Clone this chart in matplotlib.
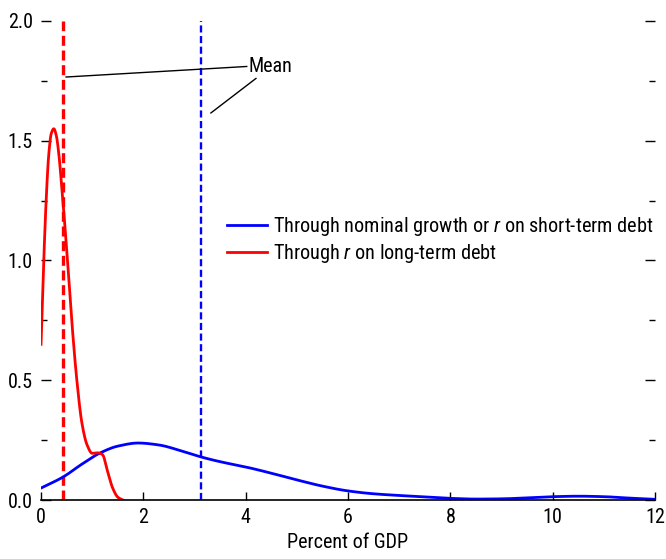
import matplotlib
matplotlib.use("Agg")
import matplotlib.pyplot as plt
import numpy as np
from matplotlib.ticker import MultipleLocator

plt.rcParams['font.family'] = ['Arial Narrow', 'Liberation Sans Narrow', 'Roboto Condensed',
                               'Archivo Narrow', 'PT Sans Narrow', 'DejaVu Sans']
plt.rcParams['mathtext.fontset'] = 'custom'
plt.rcParams['mathtext.it'] = 'Roboto Condensed:italic'

# Density through nominal growth or r on short-term debt
blue_x = [0.0, 0.43, 0.8, 1.15, 1.5, 1.9, 2.3, 2.7, 3.125, 3.5, 4.0, 4.5, 5.0, 5.5, 6.0, 6.5, 7.0, 7.5, 8.0, 8.5, 9.0, 9.5, 10.0, 10.5, 11.0, 11.5, 12.0]
blue_y = [0.05, 0.096, 0.15, 0.196, 0.225, 0.238, 0.23, 0.208, 0.18, 0.16, 0.138, 0.112, 0.084, 0.058, 0.038, 0.026, 0.019, 0.013, 0.007, 0.004, 0.005, 0.009, 0.014, 0.016, 0.014, 0.008, 0.003]

# Density through r on long-term debt
red_x = [0.0, 0.05, 0.1, 0.15, 0.2, 0.25, 0.3, 0.35, 0.4, 0.5, 0.6, 0.7, 0.8, 0.9, 1.0, 1.1, 1.2, 1.3, 1.4, 1.5, 1.6]
red_y = [0.65, 0.98, 1.25, 1.44, 1.53, 1.55, 1.52, 1.44, 1.32, 1.05, 0.75, 0.5, 0.32, 0.23, 0.195, 0.197, 0.19, 0.12, 0.05, 0.012, 0.0]

mean_blue = 3.125
mean_red = 0.43

xticks = [0, 2, 4, 6, 8, 10, 12]
yticks = [0.0, 0.5, 1.0, 1.5, 2.0]

def smooth(x, y, n=400):
    xs = np.linspace(min(x), max(x), n)
    x = np.asarray(x, float)
    y = np.asarray(y, float)
    # monotone cubic (PCHIP-style) interpolation through the points
    h = np.diff(x)
    d = np.diff(y) / h
    m = np.zeros_like(y)
    for k in range(1, len(x) - 1):
        if d[k - 1] * d[k] > 0:
            w1 = 2 * h[k] + h[k - 1]
            w2 = h[k] + 2 * h[k - 1]
            m[k] = (w1 + w2) / (w1 / d[k - 1] + w2 / d[k])
    m[0] = d[0]
    m[-1] = d[-1]
    ys = np.empty_like(xs)
    idx = np.clip(np.searchsorted(x, xs) - 1, 0, len(x) - 2)
    for j, (xv, i) in enumerate(zip(xs, idx)):
        t = (xv - x[i]) / h[i]
        h00 = 2 * t**3 - 3 * t**2 + 1
        h10 = t**3 - 2 * t**2 + t
        h01 = -2 * t**3 + 3 * t**2
        h11 = t**3 - t**2
        ys[j] = h00 * y[i] + h10 * h[i] * m[i] + h01 * y[i + 1] + h11 * h[i] * m[i + 1]
    return xs, ys

fig = plt.figure(figsize=(6.66, 5.59), dpi=100)
ax = fig.add_axes([0.0616, 0.1055, 0.922, 0.857])

bx, by = smooth(blue_x, blue_y)
rx, ry = smooth(red_x, red_y)

ax.plot([mean_red, mean_red], [0, 2.0], color='#ff0000', lw=2.4, ls=(0, (3, 1.4)))
ax.plot([mean_blue, mean_blue], [0, 2.0], color='#0000ff', lw=1.7, ls=(0, (3, 1.5)))
ax.plot(bx, by, color='#0000ff', lw=2.0, label='Through nominal growth or $\\it{r}$ on short-term debt')
ax.plot(rx, ry, color='#ff0000', lw=2.0, label='Through $\\it{r}$ on long-term debt')

# "Mean" callout
ax.plot([0.49, 4.02], [1.766, 1.81], color='black', lw=1.0)
ax.plot([4.2, 3.32], [1.76, 1.616], color='black', lw=1.0)
ax.text(4.05, 1.81, 'Mean', fontsize=14.5, va='center', ha='left')

ax.set_xlim(0, 12)
ax.set_ylim(0, 2.0)
ax.set_xticks(xticks)
ax.set_xticklabels([str(v) for v in xticks])
ax.set_yticks(yticks)
ax.set_yticklabels([f'{v:.1f}' for v in yticks])
ax.yaxis.set_minor_locator(MultipleLocator(0.25))

for s in ['top', 'left', 'right']:
    ax.spines[s].set_visible(False)
ax.spines['bottom'].set_linewidth(1.2)

ax.tick_params(axis='x', direction='in', length=6, width=1.0, labelsize=14.5, pad=6)
ax.tick_params(axis='y', which='major', direction='in', length=7, width=1.0,
               labelsize=14.5, left=True, right=True, pad=6)
ax.tick_params(axis='y', which='minor', direction='in', length=4, width=1.0,
               left=True, right=True)

ax.set_xlabel('Percent of GDP', fontsize=14.5, labelpad=4)

ax.legend(loc='center left', bbox_to_anchor=(0.303, 0.543), frameon=False,
          borderpad=0, borderaxespad=0,
          fontsize=14.6, handlelength=1.95, handletextpad=0.3, labelspacing=0.2)

fig.savefig('out.png', dpi=100)
